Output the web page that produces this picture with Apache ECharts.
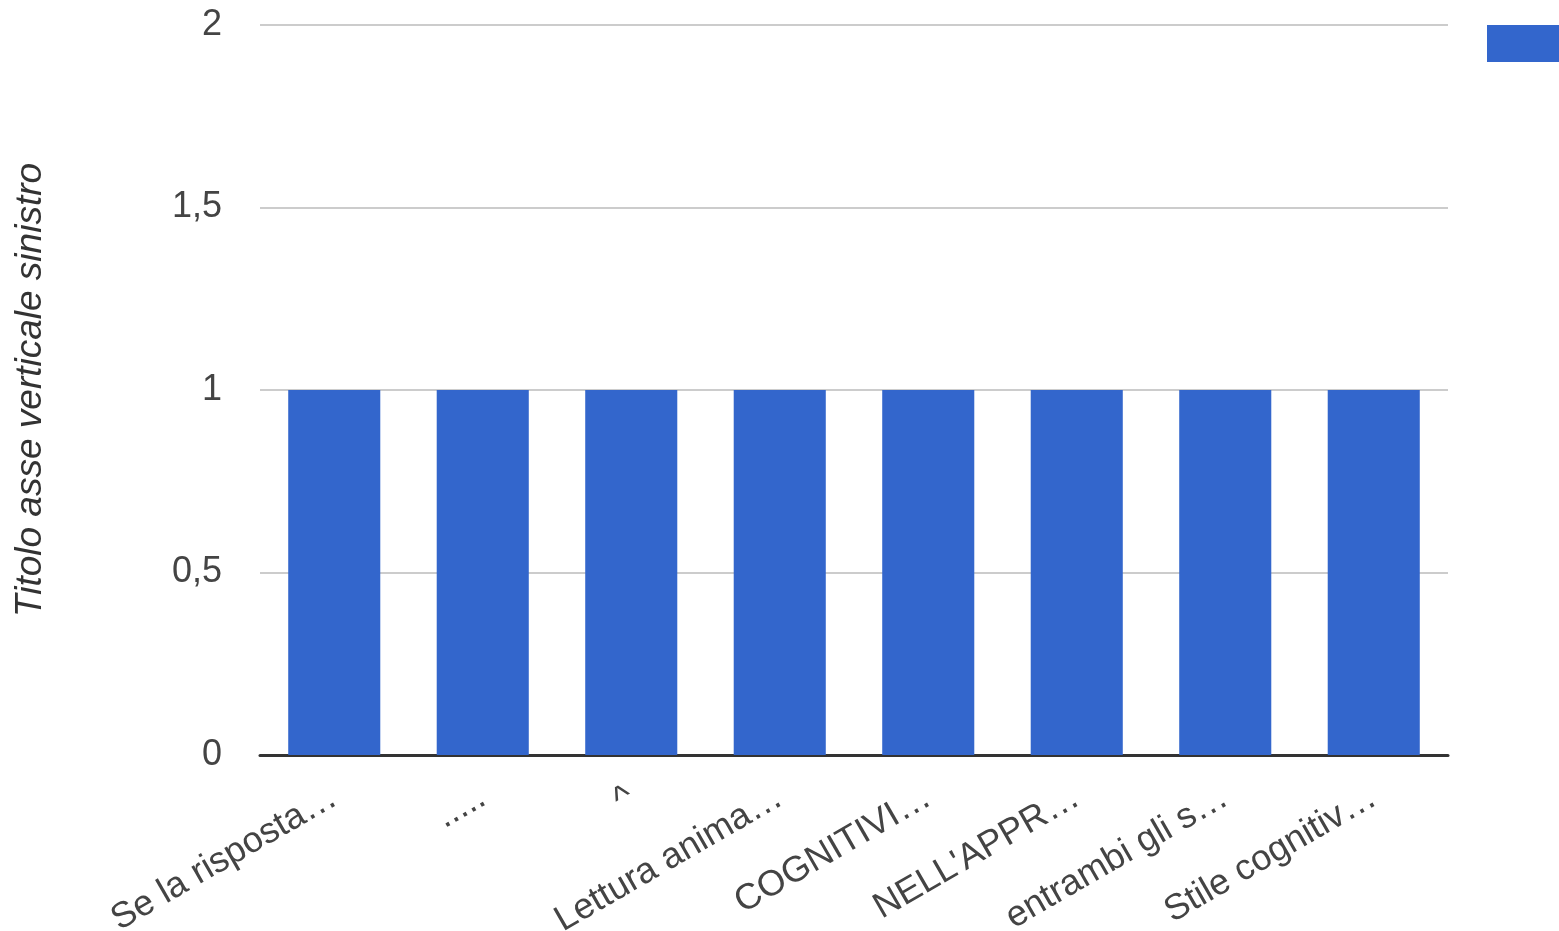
<!DOCTYPE html>
<html>
<head>
<meta charset="utf-8">
<script src="https://cdn.jsdelivr.net/npm/echarts@6/dist/echarts.min.js"></script>
<style>html,body{margin:0;padding:0;background:#fff;}#c{width:1559px;height:931px;}</style>
</head>
<body>
<div id="c"></div>
<script>
const categories = ["Se la risposta…", ".....", "^", "Lettura anima…", "COGNITIVI…", "NELL'APPR…", "entrambi gli s…", "Stile cognitiv…"];
const values = [1, 1, 1, 1, 1, 1, 1, 1];
const seriesName = "Serie1";
const yTitle = "Titolo asse verticale sinistro";
const yMin = 0, yMax = 2, yStep = 0.5;

const chart = echarts.init(document.getElementById('c'), null, {renderer: 'canvas'});
const font = 'Liberation Sans, Arial, sans-serif';
chart.setOption({
  animation: false,
  backgroundColor: '#ffffff',
  textStyle: {fontFamily: font},
  grid: {left: 260, right: 111, top: 25, bottom: 176, containLabel: false, outerBoundsMode: 'none'},
  legend: {
    show: true, left: 1487, top: 25, padding: 0, itemWidth: 90, itemHeight: 37,
    icon: 'rect', formatter: () => '', data: [seriesName], selectedMode: false
  },
  xAxis: {
    type: 'category', data: categories,
    axisLine: {show: true, lineStyle: {color: '#333', width: 3}},
    axisTick: {show: false},
    axisLabel: {interval: 0, rotate: 30, margin: 40, fontSize: 36, color: '#444', fontFamily: font}
  },
  yAxis: {
    type: 'value', min: yMin, max: yMax, interval: yStep,
    name: yTitle, nameLocation: 'middle', nameGap: 211,
    nameTextStyle: {fontSize: 37, fontStyle: 'italic', color: '#333', fontFamily: font},
    axisLine: {show: false}, axisTick: {show: false},
    axisLabel: {fontSize: 36, color: '#444', margin: 38, fontFamily: font,
      formatter: v => String(v).replace('.', ',')},
    splitLine: {lineStyle: {color: '#ccc', width: 2}}
  },
  series: [{
    name: seriesName, type: 'bar', data: values, barCategoryGap: '38%',
    itemStyle: {color: '#3366cc'}
  }]
});
</script>
</body>
</html>
